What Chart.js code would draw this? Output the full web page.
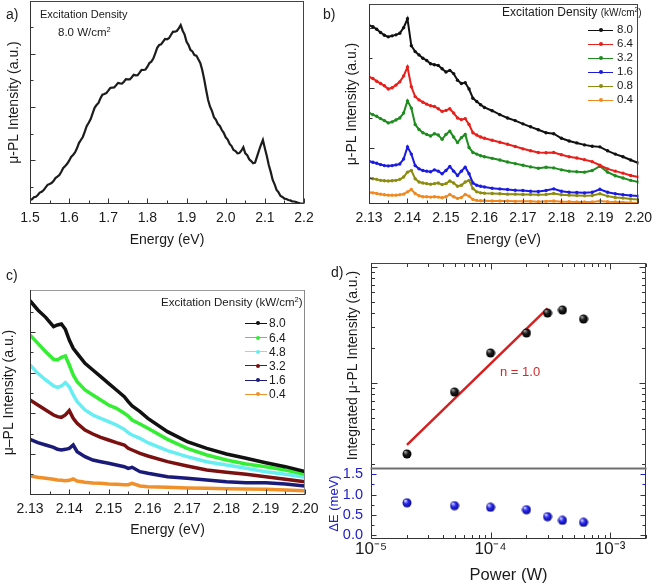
<!DOCTYPE html>
<html>
<head>
<meta charset="utf-8">
<title>PL spectra figure</title>
<script src="https://cdn.jsdelivr.net/npm/chart.js"></script>
<style>
  html, body { margin: 0; padding: 0; background: #fff; }
  #fig { position: relative; width: 658px; height: 585px; overflow: hidden;
         font-family: "Liberation Sans", Arial, Helvetica, sans-serif; color: #1a1a1a; }
  #fig canvas { position: absolute; left: 0; top: 0; }
  .lbl { position: absolute; white-space: nowrap; line-height: 1; }
  .lbl sup { font-size: 65%; line-height: 0; vertical-align: 0.6em; }
  .key { position: absolute; height: 0; }
  .key .ln { position: absolute; top: -0.5px; height: 1px; }
  .key .dot { position: absolute; width: 4px; height: 4px; top: -2px; border-radius: 50%; }
</style>
</head>
<body>
<div id="fig">
  <canvas id="chartA" width="658" height="585"></canvas>
  <canvas id="chartB" width="658" height="585"></canvas>
  <canvas id="chartC" width="658" height="585"></canvas>
  <canvas id="chartDTop" width="658" height="585"></canvas>
  <canvas id="chartDBottom" width="658" height="585"></canvas>

  <!-- panel letters -->
  <div class="lbl" style="left:6px;top:7px;font-size:14px">a)</div>
  <div class="lbl" style="left:323px;top:7px;font-size:14px">b)</div>
  <div class="lbl" style="left:6px;top:268px;font-size:14px">c)</div>
  <div class="lbl" style="left:331px;top:265px;font-size:14px">d)</div>

  <!-- annotations -->
  <div class="lbl" style="left:40px;top:9px;font-size:11px">Excitation Density</div>
  <div class="lbl" style="left:58px;top:27px;font-size:11.5px">8.0 W/cm<sup>2</sup></div>
  <div class="lbl" style="left:502px;top:6px;font-size:12px">Excitation Density <span style="font-size:10px">(kW/cm<sup>2</sup>)</span></div>
  <div class="lbl" style="left:161px;top:297px;font-size:11.5px">Excitation Density (kW/cm<sup>2</sup>)</div>
  <div class="lbl" style="left:500px;top:364.6px;font-size:13px;color:#d42a2a">n = 1.0</div>

  <div id="keyB"></div>
  <div id="keyC"></div>
</div>

<script>
// ---------- panel a : single spectrum ----------
const energyA = [
  1.500,1.505,1.510,1.515,1.520,1.525,1.530,1.535,1.540,1.545,
  1.550,1.555,1.560,1.565,1.570,1.575,1.580,1.585,1.590,1.595,
  1.600,1.605,1.610,1.615,1.620,1.625,1.630,1.635,1.640,1.645,
  1.650,1.655,1.660,1.665,1.670,1.675,1.680,1.685,1.690,1.695,
  1.700,1.705,1.710,1.715,1.720,1.725,1.730,1.735,1.740,1.745,
  1.750,1.755,1.760,1.765,1.770,1.775,1.780,1.785,1.790,1.795,
  1.800,1.805,1.810,1.815,1.820,1.825,1.830,1.835,1.840,1.845,
  1.850,1.855,1.860,1.865,1.870,1.875,1.880,1.885,1.890,1.895,
  1.900,1.905,1.910,1.915,1.920,1.925,1.930,1.935,1.940,1.945,
  1.950,1.955,1.960,1.965,1.970,1.975,1.980,1.985,1.990,1.995,
  2.000,2.005,2.010,2.015,2.020,2.025,2.030,2.035,2.040,2.045,
  2.050,2.055,2.060,2.065,2.070,2.075,2.080,2.085,2.090,2.095,
  2.100,2.105,2.110,2.115,2.120,2.125,2.130,2.135,2.140,2.145,
  2.150,2.155,2.160,2.165,2.170,2.175,2.180,2.185,2.190,2.195,
  2.200
];
const intensityA = [
  -13.0,-12.2,-10.3,-9.8,-8.0,-5.6,-4.7,-3.1,-0.3,2.2,
  3.0,3.9,6.0,8.9,10.3,12.0,15.3,19.0,21.0,23.2,
  26.3,30.1,32.0,34.6,38.7,43.9,47.0,50.0,55.3,61.0,
  64.3,68.0,73.7,79.2,82.0,84.1,88.7,92.3,93.0,93.9,
  96.3,99.0,99.3,99.6,101.7,104.1,103.7,103.5,105.3,107.9,
  107.7,107.6,109.7,112.2,111.7,111.9,114.3,117.2,117.0,117.4,
  120.3,124.0,125.3,128.4,133.7,139.2,142.0,142.6,145.3,148.0,
  147.7,148.8,152.0,155.1,155.3,156.0,158.7,162.0,156.3,152.4,
  145.3,142.0,137.0,135.6,132.0,131.4,127.7,124.0,117.0,107.8,
  97.0,87.0,80.3,75.9,69.7,67.2,63.0,61.0,57.0,54.1,
  49.7,47.4,43.0,40.9,37.0,35.9,33.7,34.0,36.3,39.7,
  33.7,31.8,27.7,25.9,23.7,24.3,30.3,36.5,42.0,47.0,
  38.7,30.9,22.0,15.1,7.0,2.6,-3.0,-5.4,-9.0,-10.0,
  -11.7,-12.0,-13.0,-13.4,-14.3,-14.5,-15.0,-15.9,-16.3,-16.5,
  -17.0
];
const xTicksA = [1.5,1.55,1.6,1.65,1.7,1.75,1.8,1.85,1.9,1.95,2.0,2.05,2.1,2.15,2.2];
const yTicksA = [0,26.67,53.33,80,106.67,133.33,160];

// ---------- panel b : spectra vs excitation density ----------
const energyB = [
  2.130,2.131,2.132,2.133,2.134,2.135,2.136,2.137,2.138,2.139,
  2.140,2.141,2.142,2.143,2.144,2.145,2.146,2.147,2.148,2.149,
  2.150,2.151,2.152,2.153,2.154,2.155,2.156,2.157,2.158,2.159,
  2.160,2.162,2.164,2.166,2.168,2.170,2.172,2.174,2.176,2.178,
  2.180,2.182,2.184,2.186,2.188,2.190,2.192,2.194,2.196,2.198,
  2.200
];
const densityB = ['8.0','6.4','3.2','1.6','0.8','0.4'];
const colorsB = ['#111111','#e8201c','#1e8c1e','#1c1ce0','#8c8c10','#f08a20'];
const b80 = [466,462,454,444,436,431,434,437,442,459,486,404,386,376,366,359,349,346,344,334,
  324,329,319,299,289,291,272,244,234,224,216,206,194,184,176,166,157,148,139,136,
  122,114,108,102,98,96,84,74,66,56,47];
const b64 = [309,304,296,289,282,272,276,284,294,312,339,279,249,239,232,226,221,219,212,204,
  207,212,199,184,179,182,164,139,132,126,122,116,110,104,97,90,84,79,78,79,
  72,66,62,57,51,40,29,22,16,9,4];
const b32 = [199,194,189,182,176,169,172,178,184,199,236,214,164,149,139,134,129,136,132,119,
  134,144,126,109,124,134,94,79,74,69,66,61,56,50,45,40,35,31,34,32,
  26,22,20,19,24,37,19,8,1,-6,-11];
const b16 = [52,49,46,42,39,38,39,41,44,59,96,74,39,29,24,22,20,26,22,14,
  24,36,22,9,22,34,14,-14,-21,-24,-26,-30,-32,-34,-36,-37,-39,-40,-37,-32,
  -39,-42,-43,-44,-42,-33,-42,-47,-50,-52,-54];
const b08 = [1,-1,-3,-6,-7,-8,-7,-6,-3,4,19,24,-1,-11,-14,-16,-18,-16,-14,-19,
  -16,-8,-14,-24,-21,-11,-6,-31,-41,-44,-45,-46,-47,-48,-48,-49,-49,-50,-49,-46,
  -50,-51,-52,-53,-52,-47,-54,-58,-60,-63,-64];
const b04 = [-43,-44,-46,-48,-50,-51,-51,-51,-50,-48,-41,-34,-46,-53,-56,-56,-57,-56,-57,-59,
  -56,-49,-56,-61,-58,-49,-54,-64,-67,-68,-68,-69,-69,-69,-70,-70,-70,-71,-70,-69,
  -71,-71,-72,-72,-72,-69,-71,-72,-73,-74,-75];
const seriesB = [b80, b64, b32, b16, b08, b04];
const xTicksBC = [2.13,2.135,2.14,2.145,2.15,2.155,2.16,2.165,2.17,2.175,2.18,2.185,2.19,2.195,2.2];
const yTicksB = [0,92,184,276,367,459];

// ---------- panel c : spectra vs excitation density ----------
const energyC = [2.130,2.132,2.134,2.136,2.137,2.138,2.139,2.140,2.141,2.142,
  2.144,2.146,2.148,2.150,2.152,2.154,2.155,2.156,2.158,2.160,
  2.165,2.170,2.175,2.180,2.185,2.190,2.195,2.200];
const densityC = ['8.0','6.4','4.8','3.2','1.6','0.4'];
const colorsC = ['#111111','#33ee33','#66eef2','#7a1010','#1a1a78','#f0902a'];
const c80 = [521,493,471,443,448,451,435,403,378,363,333,313,293,273,253,233,218,205,188,168,128,98,78,61,48,35,23,8];
const c64 = [418,393,368,345,343,351,355,328,298,278,253,238,223,208,198,183,175,163,151,138,105,78,58,43,31,23,13,0];
const c48 = [328,303,283,265,261,265,275,263,238,218,193,178,168,158,148,135,125,118,108,95,71,53,38,28,18,8,0,-9];
const c32 = [223,208,193,178,173,171,178,191,168,153,133,121,111,103,95,88,78,73,63,55,38,25,13,6,0,-7,-15,-22];
const c16 = [105,95,88,81,75,73,75,78,88,68,53,43,38,33,28,23,18,21,8,3,-7,-12,-17,-22,-25,-25,-29,-35];
const c04 = [-5,-9,-12,-15,-17,-18,-19,-18,-14,-20,-24,-26,-27,-29,-30,-31,-31,-27,-35,-37,-39,-41,-42,-43,-44,-45,-47,-49];
const seriesC = [c80, c64, c48, c32, c16, c04];
const yTicksC = [0,61,122,183,244,305,366,427,488];

// ---------- panel d : power dependence ----------
const powerD = [2e-5,5e-5,1e-4,2e-4,3e-4,4e-4,6e-4];
const integratedD = [2.46,8.37,18.1,26.9,39.9,42.3,35.4];
const deltaE = [0.80,0.73,0.69,0.63,0.46,0.37,0.32];
const fitPower = [2e-5,3e-4];
const fitIntensity = [2.94,43.8];
const powerTicks = [1e-5,2e-5,3e-5,4e-5,5e-5,6e-5,7e-5,8e-5,9e-5,
  1e-4,2e-4,3e-4,4e-4,5e-4,6e-4,7e-4,8e-4,9e-4,1e-3,2e-3];
const intTicks = [2,3,4,5,6,7,8,9,10,20,30,40,50,60,70,80,90,100];
const deTicks = [0,0.25,0.5,0.75,1,1.25,1.5];

// ---------- helpers ----------
Chart.defaults.font.family = '"Liberation Sans", Arial, Helvetica, sans-serif';
Chart.defaults.color = '#1a1a1a';
Chart.defaults.animation = false;

const fixTicks = vals => scale => { scale.ticks = vals.map(v => ({ value: v })); };
const fixWidth = w => scale => { scale.width = w; };
const fixHeight = h => scale => { scale.height = h; };
const oddMajor = (v, i) => i % 2 === 1;
const evenMajor = (v, i) => i % 2 === 0;
const isDecade = v => Math.abs(Math.log10(v) - Math.round(Math.log10(v))) < 1e-6;
const pairs = (xs, ys) => xs.map((x, i) => ({ x: x, y: ys[i] }));

function powLabel(v) {
  if (!isDecade(v)) return '';
  const sup = '⁰¹²³⁴⁵⁶⁷⁸⁹';
  const e = String(Math.round(Math.log10(v)));
  return '10' + e.replace('-', '⁻').replace(/\d/g, d => sup[d]);
}

// inward ticks + frame, drawn from the chart's own scales
function axisDecor(spec) {
  return {
    id: 'axisDecor',
    afterDatasetsDraw(chart) {
      const ctx = chart.ctx;
      const a = chart.chartArea;
      const L = Math.round(a.left) + 0.5, R = Math.round(a.right) - 0.5;
      const T = Math.round(a.top) + 0.5, B = Math.round(a.bottom) - 0.5;
      ctx.save();
      ctx.lineWidth = 1;
      spec.ticks.forEach(t => {
        const sc = chart.scales[t.axis];
        ctx.strokeStyle = t.color || '#333';
        sc.ticks.forEach((tk, i) => {
          const p = Math.round(sc.getPixelForValue(tk.value)) + 0.5;
          const len = t.isMajor(tk.value, i) ? t.major : t.minor;
          t.sides.forEach(side => {
            ctx.beginPath();
            if (side === 'bottom') { ctx.moveTo(p, B); ctx.lineTo(p, B - len); }
            else if (side === 'top') { ctx.moveTo(p, T); ctx.lineTo(p, T + len); }
            else if (side === 'left') { ctx.moveTo(L, p); ctx.lineTo(L + len, p); }
            else { ctx.moveTo(R, p); ctx.lineTo(R - len, p); }
            ctx.stroke();
          });
        });
      });
      const lines = { top: [L, T, R, T], right: [R, T, R, B], bottom: [L, B, R, B], left: [L, T, L, B] };
      ctx.lineCap = 'square';
      Object.keys(spec.edges).forEach(k => {
        const [color, width] = spec.edges[k];
        const [x1, y1, x2, y2] = lines[k];
        ctx.strokeStyle = color;
        ctx.lineWidth = width;
        ctx.beginPath(); ctx.moveTo(x1, y1); ctx.lineTo(x2, y2); ctx.stroke();
      });
      ctx.restore();
    }
  };
}

function sphere(r, hi, mid, dark) {
  const c = document.createElement('canvas');
  c.width = c.height = r * 2 + 1;
  const g = c.getContext('2d');
  const grad = g.createRadialGradient(r * 0.7, r * 0.6, r * 0.1, r + 0.5, r + 0.5, r);
  grad.addColorStop(0, hi);
  grad.addColorStop(0.45, mid);
  grad.addColorStop(1, dark);
  g.fillStyle = grad;
  g.beginPath(); g.arc(r + 0.5, r + 0.5, r, 0, Math.PI * 2); g.fill();
  return c;
}

function buildKey(holder, labels, colors, o) {
  labels.forEach((lab, i) => {
    const row = document.createElement('div');
    row.className = 'key';
    row.style.left = o.x0 + 'px';
    row.style.top = (o.y0 + o.dy * i) + 'px';
    row.innerHTML =
      '<span class="ln" style="left:0;width:' + o.len + 'px;background:' + colors[i] + '"></span>' +
      '<span class="dot" style="left:' + (o.dot - 2) + 'px;background:' + colors[i] + '"></span>' +
      '<span class="lbl" style="left:' + (o.len + o.gap) + 'px;top:' + (-0.49 * o.fs) + 'px;font-size:' + o.fs + 'px">' + lab + '</span>';
    holder.appendChild(row);
  });
}

const baseOpts = { responsive: false, events: [], plugins: { legend: { display: false }, tooltip: { enabled: false } } };
const noGrid = { display: false, drawTicks: false };
const noBorder = { display: false };
const frameAll = { top: ['#444', 1], right: ['#444', 1], bottom: ['#333', 1], left: ['#333', 1] };

// ---------- chart a ----------
new Chart(document.getElementById('chartA'), {
  type: 'line',
  data: { datasets: [{ data: pairs(energyA, intensityA), borderColor: '#1c1c1c', borderWidth: 2.2, pointRadius: 0 }] },
  options: Object.assign({}, baseOpts, {
    layout: { padding: { left: 0, top: 1, right: 354, bottom: 335 } },
    scales: {
      x: { type: 'linear', min: 1.5, max: 2.2, afterBuildTicks: fixTicks(xTicksA), afterFit: fixHeight(46),
           grid: noGrid, border: noBorder,
           ticks: { autoSkip: false, maxRotation: 0, padding: 6, font: { size: 14 },
                    callback: (v, i) => i % 2 === 0 ? v.toFixed(1) : '' },
           title: { display: true, text: 'Energy (eV)', font: { size: 14 }, padding: { top: 0, bottom: 1 } } },
      y: { type: 'linear', min: -17, max: 186, afterBuildTicks: fixTicks(yTicksA), afterFit: fixWidth(30),
           grid: noGrid, border: noBorder, ticks: { display: false },
           title: { display: true, text: 'μ-PL Intensity (a.u.)', font: { size: 14 }, padding: { top: 5.5, bottom: 0 } } }
    }
  }),
  plugins: [axisDecor({
    ticks: [
      { axis: 'x', sides: ['bottom'], major: 5, minor: 3, isMajor: evenMajor },
      { axis: 'y', sides: ['left'], major: 5, minor: 3, isMajor: oddMajor }
    ],
    edges: frameAll
  })]
});

// ---------- chart b ----------
new Chart(document.getElementById('chartB'), {
  type: 'line',
  data: { datasets: seriesB.map((s, k) => ({
    label: densityB[k], data: pairs(energyB, s), borderColor: colorsB[k], backgroundColor: colorsB[k],
    borderWidth: 2, pointRadius: 1.7, pointBorderWidth: 0, order: k
  })) },
  options: Object.assign({}, baseOpts, {
    layout: { padding: { left: 330, top: 1, right: 14, bottom: 335 } },
    scales: {
      x: { type: 'linear', min: 2.13, max: 2.2, afterBuildTicks: fixTicks(xTicksBC), afterFit: fixHeight(46),
           grid: noGrid, border: noBorder,
           ticks: { autoSkip: false, maxRotation: 0, padding: 6, font: { size: 14 },
                    callback: (v, i) => i % 2 === 0 ? v.toFixed(2) : '' },
           title: { display: true, text: 'Energy (eV)', font: { size: 14 }, padding: { top: 0, bottom: 1 } } },
      y: { type: 'linear', min: -78, max: 531, afterBuildTicks: fixTicks(yTicksB), afterFit: fixWidth(39),
           grid: noGrid, border: noBorder, ticks: { display: false },
           title: { display: true, text: 'μ-PL Intensity (a.u.)', font: { size: 14 }, padding: { top: 13.6, bottom: 0 } } }
    }
  }),
  plugins: [axisDecor({
    ticks: [
      { axis: 'x', sides: ['bottom'], major: 5, minor: 3, isMajor: evenMajor },
      { axis: 'y', sides: ['left'], major: 5, minor: 3, isMajor: oddMajor }
    ],
    edges: frameAll
  })]
});

// ---------- chart c ----------
new Chart(document.getElementById('chartC'), {
  type: 'line',
  data: { datasets: seriesC.map((s, k) => ({
    label: densityC[k], data: pairs(energyC, s), borderColor: colorsC[k],
    borderWidth: 3.5, pointRadius: 0, order: k
  })) },
  options: Object.assign({}, baseOpts, {
    layout: { padding: { left: 0, top: 290, right: 353, bottom: 44 } },
    scales: {
      x: { type: 'linear', min: 2.13, max: 2.2, afterBuildTicks: fixTicks(xTicksBC), afterFit: fixHeight(46),
           grid: noGrid, border: noBorder,
           ticks: { autoSkip: false, maxRotation: 0, padding: 6, font: { size: 14 },
                    callback: (v, i) => i % 2 === 0 ? v.toFixed(2) : '' },
           title: { display: true, text: 'Energy (eV)', font: { size: 14 }, padding: { top: 0, bottom: 2.6 } } },
      y: { type: 'linear', min: -62, max: 553, afterBuildTicks: fixTicks(yTicksC), afterFit: fixWidth(30),
           grid: noGrid, border: noBorder, ticks: { display: false },
           title: { display: true, text: 'μ–PL Intensity (a.u.)', font: { size: 14 }, padding: { top: 0.6, bottom: 0 } } }
    }
  }),
  plugins: [axisDecor({
    ticks: [
      { axis: 'x', sides: ['bottom'], major: 5, minor: 3, isMajor: evenMajor },
      { axis: 'y', sides: ['left'], major: 5, minor: 3, isMajor: oddMajor }
    ],
    edges: { top: ['#9a9a9a', 1], right: ['#8a8a8a', 1], bottom: ['#333', 1], left: ['#333', 1] }
  })]
});

// ---------- chart d (top: integrated intensity) ----------
const ballBlack = sphere(4.5, '#a0a0a0', '#1c1c1c', '#000000');
const ballBlue = sphere(4.5, '#d8d8ff', '#2b2bf2', '#08088c');

new Chart(document.getElementById('chartDTop'), {
  type: 'scatter',
  data: { datasets: [
    { data: pairs(fitPower, fitIntensity), showLine: true, borderColor: '#d42020', borderWidth: 2.5, pointRadius: 0, order: 2 },
    { data: pairs(powerD, integratedD), pointStyle: ballBlack, pointRadius: 5, order: 1 }
  ] },
  options: Object.assign({}, baseOpts, {
    layout: { padding: { left: 326, top: 263, right: 12, bottom: 117 } },
    scales: {
      x: { type: 'logarithmic', min: 1e-5, max: 2e-3, afterBuildTicks: fixTicks(powerTicks), afterFit: fixHeight(0),
           grid: noGrid, border: noBorder, ticks: { display: false } },
      y: { type: 'logarithmic', min: 1.864, max: 107.2, afterBuildTicks: fixTicks(intTicks), afterFit: fixWidth(45),
           grid: noGrid, border: noBorder, ticks: { display: false },
           title: { display: true, text: 'Integrated μ-PL Intensity (a.u.)', font: { size: 14 }, padding: { top: 18.3, bottom: 0 } } }
    }
  }),
  plugins: [axisDecor({
    ticks: [
      { axis: 'x', sides: ['top'], major: 6, minor: 3.5, isMajor: isDecade },
      { axis: 'y', sides: ['left', 'right'], major: 6, minor: 3.5, isMajor: isDecade }
    ],
    edges: { top: ['#444', 1], right: ['#444', 1], left: ['#333', 1] }
  })]
});

// ---------- chart d (bottom: energy shift) ----------
new Chart(document.getElementById('chartDBottom'), {
  type: 'scatter',
  data: { datasets: [
    { data: pairs(powerD, deltaE), pointStyle: ballBlue, pointRadius: 5 }
  ] },
  options: Object.assign({}, baseOpts, {
    layout: { padding: { left: 326, top: 468, right: 12, bottom: 0 } },
    scales: {
      x: { type: 'logarithmic', min: 1e-5, max: 2e-3, afterBuildTicks: fixTicks(powerTicks), afterFit: fixHeight(46),
           grid: noGrid, border: noBorder,
           ticks: { autoSkip: false, maxRotation: 0, padding: 0, font: { size: 17 }, callback: v => powLabel(v) },
           title: { display: true, text: 'Power (W)', font: { size: 16.5 }, padding: { top: 0, bottom: 0 } } },
      y: { type: 'linear', min: -0.088, max: 1.654, afterBuildTicks: fixTicks(deTicks), afterFit: fixWidth(45),
           grid: noGrid, border: noBorder,
           ticks: { autoSkip: false, padding: 8, font: { size: 14.5 }, color: '#2020c8',
                    callback: (v, i) => i % 2 === 0 ? v.toFixed(1) : '' },
           title: { display: true, text: 'ΔE (meV)', color: '#2020c8', font: { size: 13 }, padding: { top: 0.2, bottom: 0 } } }
    }
  }),
  plugins: [axisDecor({
    ticks: [
      { axis: 'x', sides: ['bottom'], major: 6, minor: 3.5, isMajor: isDecade },
      { axis: 'y', sides: ['left', 'right'], major: 5, minor: 3, isMajor: evenMajor, color: '#2020c8' }
    ],
    edges: { right: ['#333', 1], bottom: ['#333', 1], left: ['#333', 1], top: ['#6e6e6e', 2] }
  })]
});

// ---------- legends ----------
buildKey(document.getElementById('keyB'), densityB, colorsB, { x0: 588, y0: 30, dy: 14, len: 25, dot: 13, gap: 4, fs: 11.5 });
buildKey(document.getElementById('keyC'), densityC, colorsC, { x0: 245, y0: 323.3, dy: 14.2, len: 22, dot: 13, gap: 2, fs: 12 });
</script>
</body>
</html>
